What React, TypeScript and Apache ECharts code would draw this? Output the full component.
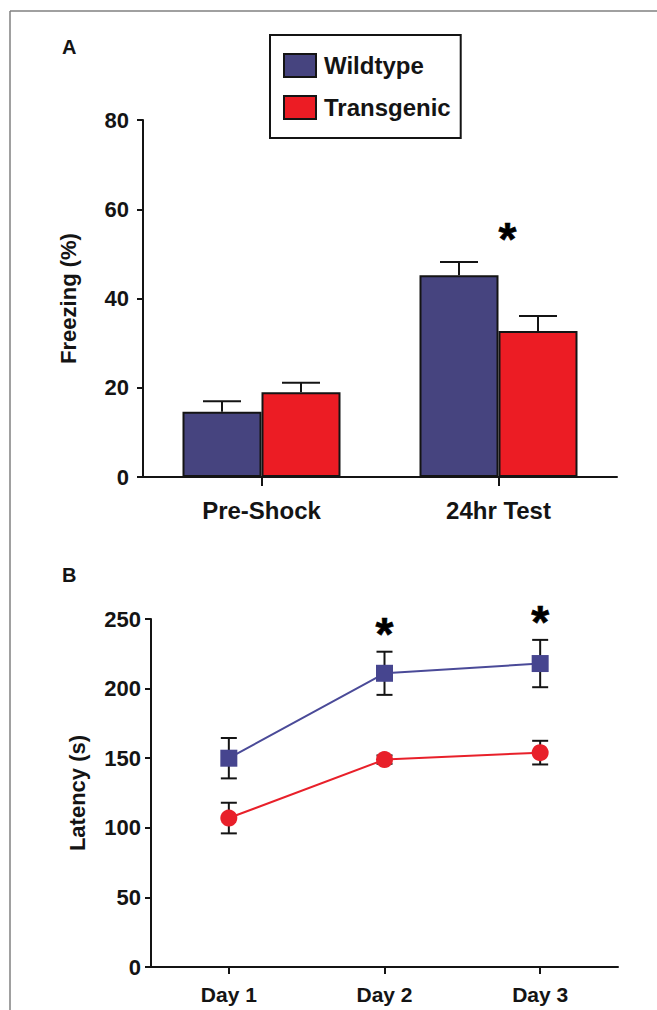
import React, { useEffect, useRef } from "react";
import * as echarts from "echarts";

// Panel A: freezing (%)
const catsA = ["Pre-Shock", "24hr Test"];
const wtFreeze = [14.6, 45.2];
const wtFreezeErr = [2.4, 3.0];
const tgFreeze = [19.0, 32.7];
const tgFreezeErr = [2.1, 3.4];
const sigA = [1]; // category index with asterisk

// Panel B: latency (s)
const catsB = ["Day 1", "Day 2", "Day 3"];
const wtLat = [150, 211, 218];
const wtLatErr = [14.5, 15.5, 17];
const tgLat = [107, 149, 154];
const tgLatErr = [11, 3, 8.5];
const sigB = [1, 2];

const FONT = "'Liberation Sans', Arial, sans-serif";
const INK = "#141414";
const WT_BAR = "#46447f";
const TG_BAR = "#ec1c24";
const WT_LINE = "#4a4a98";
const TG_LINE = "#e8202a";
const BAR_W = 79;

export default function App() {
  const ref = useRef<HTMLDivElement>(null);
  useEffect(() => {
    const chart = echarts.init(ref.current!, null, { renderer: "svg" });

    const errA = (params: any, api: any) => {
      const ci = api.value(0);
      const mean = api.value(1);
      const err = api.value(2);
      const off = api.value(3);
      const base = api.coord([ci, mean]);
      const top = api.coord([ci, mean + err]);
      const x = base[0] + off;
      return {
        type: "group",
        children: [
          { type: "line", shape: { x1: x, y1: base[1], x2: x, y2: top[1] }, style: { stroke: INK, lineWidth: 2 } },
          { type: "line", shape: { x1: x - 19, y1: top[1], x2: x + 19, y2: top[1] }, style: { stroke: INK, lineWidth: 2 } },
        ],
      };
    };
    const errB = (params: any, api: any) => {
      const ci = api.value(0);
      const mean = api.value(1);
      const err = api.value(2);
      const lo = api.coord([ci, mean - err]);
      const hi = api.coord([ci, mean + err]);
      const x = lo[0];
      return {
        type: "group",
        children: [
          { type: "line", shape: { x1: x, y1: lo[1], x2: x, y2: hi[1] }, style: { stroke: INK, lineWidth: 2 } },
          { type: "line", shape: { x1: x - 8, y1: hi[1], x2: x + 8, y2: hi[1] }, style: { stroke: INK, lineWidth: 2 } },
          { type: "line", shape: { x1: x - 8, y1: lo[1], x2: x + 8, y2: lo[1] }, style: { stroke: INK, lineWidth: 2 } },
        ],
      };
    };
    // asterisk placed above a data point: [catIndex, value, dx, dy]
    const starItem = (params: any, api: any) => {
      const p = api.coord([api.value(0), api.value(1)]);
      return {
        type: "text",
        x: p[0] + api.value(2),
        y: p[1] + api.value(3),
        style: {
          text: "*",
          fill: "#000",
          stroke: "#000",
          lineWidth: 0.6,
          font: `bold 46px ${FONT}`,
          align: "center",
          verticalAlign: "middle",
        },
      };
    };

    const axisLabel = { color: INK, fontFamily: FONT, fontWeight: "bold" as const, fontSize: 22 };
    const axisLine = { show: true, lineStyle: { color: INK, width: 2 } };

    chart.setOption({
      animation: false,
      backgroundColor: "#fff",
      textStyle: { fontFamily: FONT },
      grid: [
        { left: 143, right: 40, top: 120, height: 357 },
        { left: 151, right: 39, top: 619, height: 348 },
      ],
      legend: {
        data: ["Wildtype", "Transgenic"],
        orient: "vertical",
        left: 270,
        top: 35,
        icon: "rect",
        itemWidth: 32,
        itemHeight: 23,
        itemGap: 17,
        padding: [18, 10, 18, 13],
        borderColor: INK,
        borderWidth: 2,
        selectedMode: false,
        textStyle: { color: INK, fontFamily: FONT, fontWeight: "bold", fontSize: 24, padding: [0, 0, 0, 3] },
      },
      xAxis: [
        {
          type: "category",
          gridIndex: 0,
          data: catsA,
          axisLine,
          axisTick: { show: true, alignWithLabel: true, length: 9, lineStyle: { color: INK, width: 2 } },
          axisLabel: { ...axisLabel, fontSize: 24, margin: 21 },
        },
        {
          type: "category",
          gridIndex: 1,
          data: catsB,
          axisLine,
          axisTick: { show: true, alignWithLabel: true, length: 7, lineStyle: { color: INK, width: 2 } },
          axisLabel: { ...axisLabel, fontSize: 21, margin: 17 },
        },
      ],
      yAxis: [
        {
          type: "value",
          gridIndex: 0,
          min: 0,
          max: 80,
          interval: 20,
          splitLine: { show: false },
          axisLine,
          axisTick: { show: true, length: 6, lineStyle: { color: INK, width: 2 } },
          axisLabel: { ...axisLabel, margin: 14 },
          name: "Freezing (%)",
          nameLocation: "middle",
          nameGap: 64,
          nameTextStyle: { color: INK, fontFamily: FONT, fontWeight: "bold", fontSize: 22 },
        },
        {
          type: "value",
          gridIndex: 1,
          min: 0,
          max: 250,
          interval: 50,
          splitLine: { show: false },
          axisLine,
          axisTick: { show: true, length: 6, lineStyle: { color: INK, width: 2 } },
          axisLabel: { ...axisLabel, margin: 10 },
          name: "Latency (s)",
          nameLocation: "middle",
          nameGap: 63,
          nameTextStyle: { color: INK, fontFamily: FONT, fontWeight: "bold", fontSize: 22 },
        },
      ],
      graphic: [
        { type: "line", shape: { x1: 10, y1: 11, x2: 657, y2: 11 }, style: { stroke: "#808080", lineWidth: 1.5 } },
        { type: "line", shape: { x1: 10, y1: 11, x2: 10, y2: 1010 }, style: { stroke: "#808080", lineWidth: 1.5 } },
        { type: "text", left: 62, top: 37, style: { text: "A", fill: INK, font: `bold 20px ${FONT}` } },
        { type: "text", left: 62, top: 565, style: { text: "B", fill: INK, font: `bold 20px ${FONT}` } },
      ],
      series: [
        {
          name: "Wildtype",
          type: "bar",
          xAxisIndex: 0,
          yAxisIndex: 0,
          data: wtFreeze,
          barWidth: BAR_W,
          barGap: "0%",
          itemStyle: { color: WT_BAR, borderColor: INK, borderWidth: 2 },
        },
        {
          name: "Transgenic",
          type: "bar",
          xAxisIndex: 0,
          yAxisIndex: 0,
          data: tgFreeze,
          barWidth: BAR_W,
          barGap: "0%",
          itemStyle: { color: TG_BAR, borderColor: INK, borderWidth: 2 },
        },
        {
          name: "errA",
          type: "custom",
          xAxisIndex: 0,
          yAxisIndex: 0,
          z: 5,
          renderItem: errA,
          data: [
            ...wtFreeze.map((v, i) => [i, v, wtFreezeErr[i], -BAR_W / 2]),
            ...tgFreeze.map((v, i) => [i, v, tgFreezeErr[i], BAR_W / 2]),
          ],
        },
        {
          name: "sigA",
          type: "custom",
          xAxisIndex: 0,
          yAxisIndex: 0,
          z: 6,
          renderItem: starItem,
          data: sigA.map((i) => [i, wtFreeze[i] + wtFreezeErr[i], 9, -23]),
        },
        {
          name: "errB",
          type: "custom",
          xAxisIndex: 1,
          yAxisIndex: 1,
          z: 1,
          renderItem: errB,
          data: [
            ...wtLat.map((v, i) => [i, v, wtLatErr[i]]),
            ...tgLat.map((v, i) => [i, v, tgLatErr[i]]),
          ],
        },
        {
          name: "WT latency",
          type: "line",
          xAxisIndex: 1,
          yAxisIndex: 1,
          data: wtLat,
          symbol: "rect",
          symbolSize: 17,
          lineStyle: { color: WT_LINE, width: 2 },
          itemStyle: { color: "#46458f", borderWidth: 0 },
          z: 3,
        },
        {
          name: "TG latency",
          type: "line",
          xAxisIndex: 1,
          yAxisIndex: 1,
          data: tgLat,
          symbol: "circle",
          symbolSize: 17,
          lineStyle: { color: TG_LINE, width: 2 },
          itemStyle: { color: TG_LINE, borderWidth: 0 },
          z: 3,
        },
        {
          name: "sigB",
          type: "custom",
          xAxisIndex: 1,
          yAxisIndex: 1,
          z: 6,
          renderItem: starItem,
          data: sigB.map((i) => [i, wtLat[i] + wtLatErr[i], 0, -18]),
        },
      ],
    });
    return () => chart.dispose();
  }, []);
  return (
    <div
      ref={ref}
      style={{ position: "absolute", left: 0, top: 0, width: 657, height: 1010, background: "#fff" }}
    />
  );
}
